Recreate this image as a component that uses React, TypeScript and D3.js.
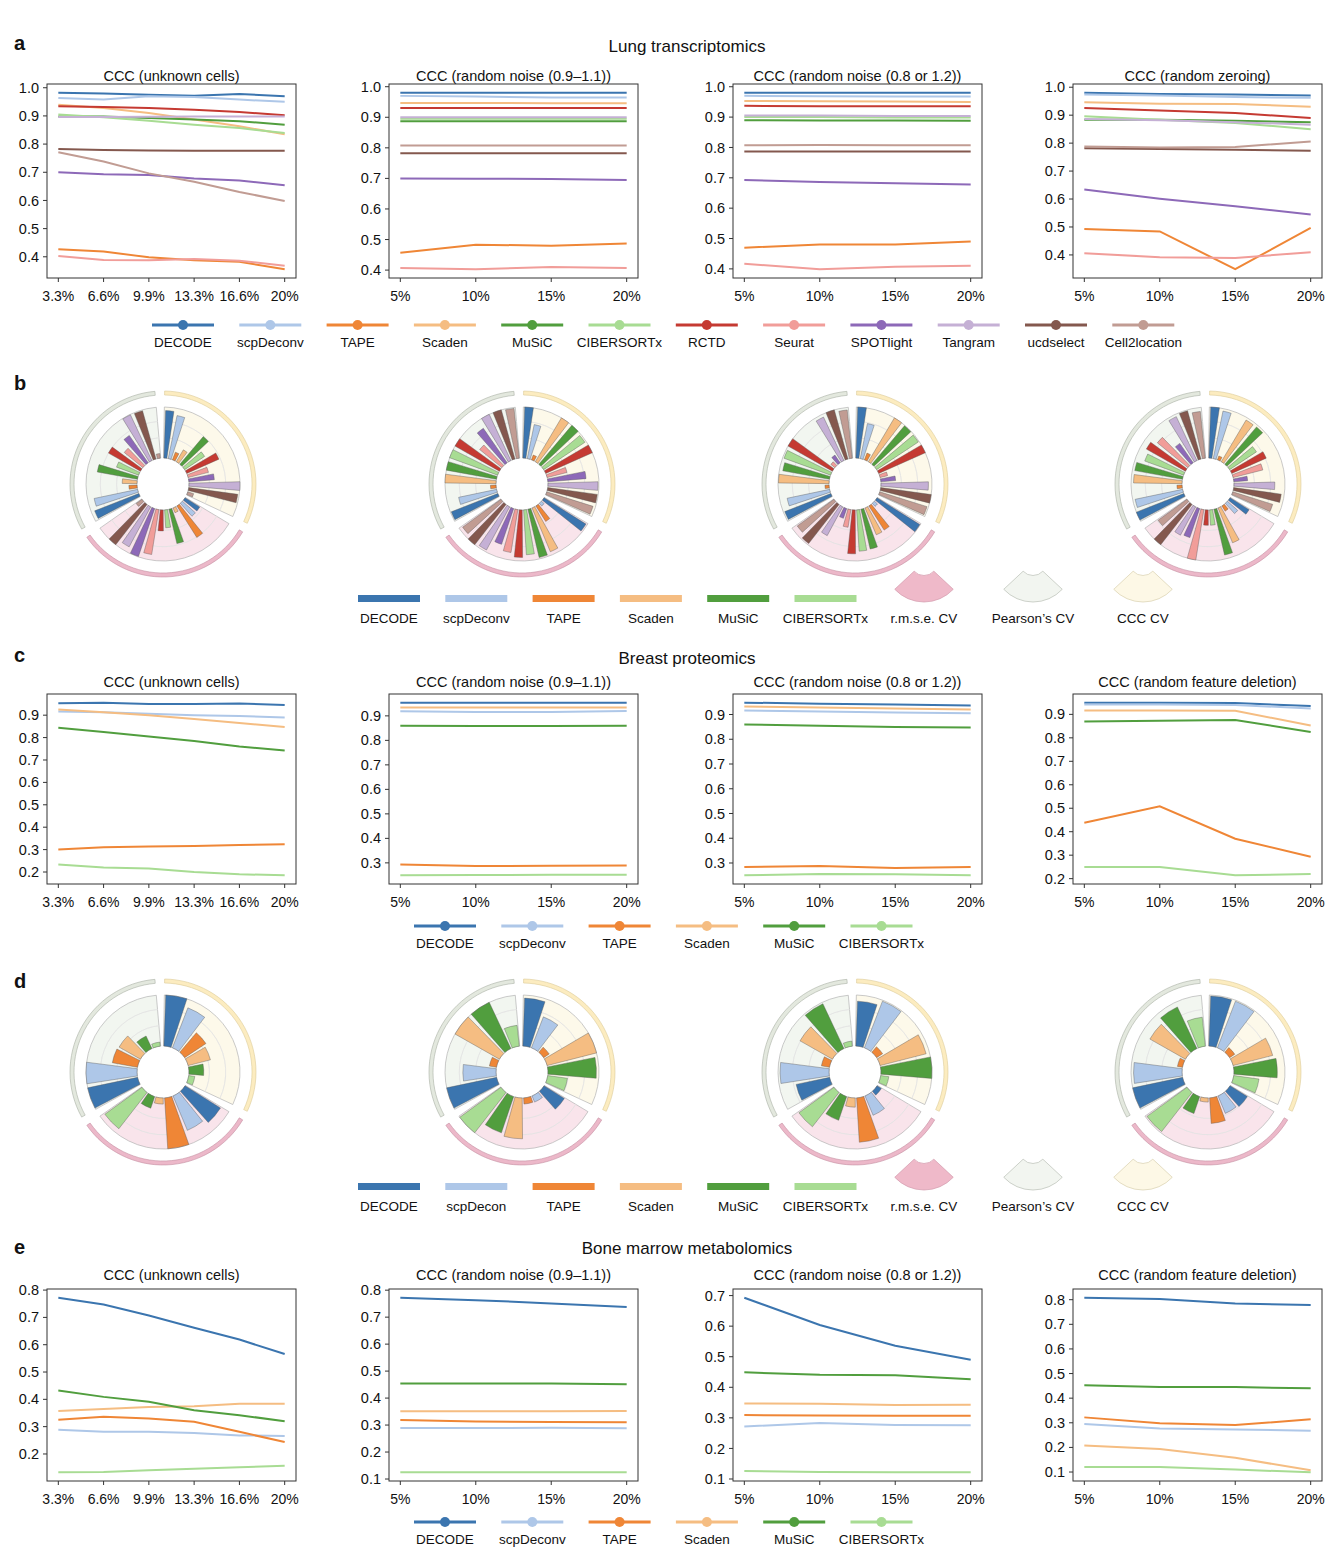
import React from "react";
import * as d3 from "d3";

const FONT = "'Liberation Sans', Arial, sans-serif";

// methods and colours
const methods = [
  "DECODE", "scpDeconv", "TAPE", "Scaden", "MuSiC", "CIBERSORTx",
  "RCTD", "Seurat", "SPOTlight", "Tangram", "ucdselect", "Cell2location",
];
const methodColors = [
  "#3b75af", "#aec7e8", "#ef8636", "#f5bd82", "#519e3e", "#a8dc93",
  "#c53a32", "#f19d99", "#8d69b8", "#c5b0d5", "#84584e", "#c19c93",
];
const dMethods = ["DECODE", "scpDecon", "TAPE", "Scaden", "MuSiC", "CIBERSORTx"];
const cvNames = ["r.m.s.e. CV", "Pearson\u2019s CV", "CCC CV"];

// x tick labels
const unknownTicks = ["3.3%", "6.6%", "9.9%", "13.3%", "16.6%", "20%"];
const pctTicks = ["5%", "10%", "15%", "20%"];

// ---- a: lung transcriptomics (rows follow `methods`)
const lungUnknown = [
  [0.982, 0.98, 0.975, 0.972, 0.978, 0.97],
  [0.964, 0.958, 0.97, 0.967, 0.958, 0.95],
  [0.427, 0.419, 0.398, 0.388, 0.382, 0.356],
  [0.94, 0.928, 0.91, 0.887, 0.863, 0.835],
  [0.898, 0.898, 0.893, 0.887, 0.881, 0.869],
  [0.905, 0.895, 0.883, 0.869, 0.857, 0.839],
  [0.934, 0.932, 0.928, 0.922, 0.914, 0.902],
  [0.403, 0.389, 0.388, 0.392, 0.386, 0.368],
  [0.7, 0.693, 0.69, 0.678, 0.671, 0.654],
  [0.896, 0.896, 0.897, 0.898, 0.898, 0.898],
  [0.783, 0.779, 0.777, 0.776, 0.776, 0.776],
  [0.771, 0.738, 0.696, 0.666, 0.63, 0.598],
];
const lungNoise1 = [
  [0.98, 0.98, 0.98, 0.98],
  [0.97, 0.968, 0.965, 0.965],
  [0.457, 0.483, 0.48, 0.487],
  [0.947, 0.947, 0.946, 0.946],
  [0.887, 0.887, 0.887, 0.887],
  [0.895, 0.895, 0.895, 0.895],
  [0.93, 0.93, 0.93, 0.93],
  [0.407, 0.403, 0.41, 0.407],
  [0.7, 0.699, 0.698, 0.695],
  [0.9, 0.9, 0.9, 0.9],
  [0.782, 0.782, 0.782, 0.782],
  [0.808, 0.808, 0.808, 0.808],
];
const lungNoise2 = [
  [0.98, 0.98, 0.98, 0.98],
  [0.97, 0.969, 0.968, 0.968],
  [0.47, 0.48, 0.48, 0.49],
  [0.953, 0.952, 0.951, 0.95],
  [0.89, 0.889, 0.889, 0.888],
  [0.9, 0.9, 0.899, 0.899],
  [0.937, 0.936, 0.936, 0.936],
  [0.417, 0.399, 0.407, 0.41],
  [0.693, 0.686, 0.682, 0.678],
  [0.905, 0.905, 0.904, 0.904],
  [0.787, 0.787, 0.787, 0.787],
  [0.807, 0.808, 0.807, 0.807],
];
const lungZero = [
  [0.98, 0.976, 0.974, 0.97],
  [0.974, 0.97, 0.965, 0.962],
  [0.493, 0.484, 0.349, 0.497],
  [0.946, 0.941, 0.94, 0.93],
  [0.884, 0.884, 0.88, 0.875],
  [0.896, 0.884, 0.872, 0.85],
  [0.926, 0.917, 0.908, 0.89],
  [0.406, 0.392, 0.389, 0.41],
  [0.634, 0.601, 0.574, 0.545],
  [0.886, 0.882, 0.875, 0.866],
  [0.782, 0.779, 0.776, 0.773],
  [0.788, 0.784, 0.786, 0.806],
];

// ---- b: CV wheels, lung (per wheel: CCC CV, r.m.s.e. CV, Pearson's CV)
const lungWheel1 = [
  [0.93, 0.86, 0.16, 0.27, 0.71, 0.47, 0.69, 0.41, 0.5, 1.0, 0.97, 0.12],
  [0.34, 0.34, 0.73, 0.1, 0.69, 0.35, 0.41, 0.89, 0.99, 0.89, 1.0, 0.14],
  [0.93, 0.87, 0.16, 0.29, 0.8, 0.46, 0.72, 0.47, 0.65, 0.99, 0.98, 0.09],
];
const lungWheel2 = [
  [1.0, 0.68, 0.1, 1.0, 1.0, 0.97, 1.0, 0.4, 0.75, 0.98, 0.98, 0.95],
  [0.97, 0.07, 0.36, 0.93, 0.97, 0.88, 0.93, 0.85, 0.74, 0.96, 1.0, 0.93],
  [0.98, 0.76, 0.11, 1.0, 1.0, 1.0, 1.0, 0.56, 0.82, 1.0, 1.0, 0.98],
];
const lungWheel3 = [
  [1.0, 0.7, 0.14, 1.0, 0.99, 0.98, 1.0, 0.15, 0.29, 0.93, 1.0, 0.97],
  [0.99, 0.08, 0.56, 0.57, 0.8, 0.81, 0.86, 0.35, 0.2, 0.64, 0.97, 0.89],
  [0.97, 0.85, 0.08, 0.99, 0.93, 0.97, 1.0, 0.1, 0.18, 0.94, 1.0, 0.95],
];
const lungWheel4 = [
  [1.0, 0.95, 0.08, 0.95, 0.96, 0.63, 0.74, 0.6, 0.27, 0.8, 0.94, 0.82],
  [0.44, 0.27, 0.12, 0.74, 0.92, 0.3, 0.3, 1.0, 0.6, 0.63, 1.0, 0.7],
  [1.0, 0.95, 0.1, 0.95, 0.95, 0.81, 0.88, 0.77, 0.46, 0.95, 0.98, 0.92],
];

// ---- c: breast proteomics
const breastUnknown = [
  [0.953, 0.956, 0.95, 0.95, 0.952, 0.946],
  [0.916, 0.913, 0.906, 0.9, 0.896, 0.89],
  [0.3, 0.31, 0.314, 0.316, 0.32, 0.324],
  [0.925, 0.913, 0.9, 0.883, 0.865, 0.847],
  [0.844, 0.825, 0.805, 0.785, 0.76, 0.742],
  [0.234, 0.22, 0.216, 0.2, 0.19, 0.185],
];
const breastNoise1 = [
  [0.954, 0.954, 0.954, 0.954],
  [0.919, 0.916, 0.916, 0.92],
  [0.293, 0.287, 0.288, 0.289],
  [0.934, 0.934, 0.934, 0.934],
  [0.86, 0.859, 0.859, 0.86],
  [0.249, 0.25, 0.251, 0.251],
];
const breastNoise2 = [
  [0.948, 0.944, 0.94, 0.936],
  [0.916, 0.912, 0.908, 0.905],
  [0.284, 0.288, 0.28, 0.284],
  [0.932, 0.928, 0.924, 0.92],
  [0.86, 0.855, 0.85, 0.848],
  [0.25, 0.256, 0.254, 0.25],
];
const breastDeletion = [
  [0.95, 0.95, 0.948, 0.936],
  [0.942, 0.942, 0.94, 0.925],
  [0.438, 0.508, 0.37, 0.293],
  [0.917, 0.917, 0.915, 0.853],
  [0.87, 0.873, 0.876, 0.825],
  [0.25, 0.25, 0.214, 0.22],
];

// ---- d: CV wheels, breast
const breastWheel1 = [
  [1.0, 0.84, 0.5, 0.45, 0.29, 0.12],
  [0.82, 0.73, 1.0, 0.12, 0.24, 0.9],
  [1.0, 1.0, 0.5, 0.48, 0.27, 0.08],
];
const breastWheel2 = [
  [0.94, 0.65, 0.13, 1.0, 0.95, 0.39],
  [0.47, 0.13, 0.12, 0.8, 0.75, 1.0],
  [1.0, 0.65, 0.14, 1.0, 1.0, 0.41],
];
const breastWheel3 = [
  [0.88, 0.98, 0.14, 0.93, 1.0, 0.16],
  [0.1, 0.41, 0.87, 0.18, 0.49, 0.85],
  [0.67, 0.96, 0.16, 0.73, 0.97, 0.1],
];
const breastWheel4 = [
  [0.98, 0.98, 0.12, 0.8, 0.85, 0.5],
  [0.4, 0.37, 0.5, 0.08, 0.35, 0.97],
  [1.0, 0.95, 0.1, 0.8, 0.9, 0.57],
];

// ---- e: bone marrow metabolomics
const boneUnknown = [
  [0.772, 0.747, 0.707, 0.662, 0.619, 0.566],
  [0.289, 0.281, 0.281, 0.277, 0.268, 0.266],
  [0.325, 0.336, 0.33, 0.318, 0.281, 0.244],
  [0.357, 0.365, 0.372, 0.375, 0.384, 0.384],
  [0.432, 0.409, 0.391, 0.36, 0.342, 0.32],
  [0.133, 0.134, 0.14, 0.146, 0.151, 0.157],
];
const boneNoise1 = [
  [0.772, 0.763, 0.751, 0.738],
  [0.289, 0.289, 0.29, 0.288],
  [0.319, 0.313, 0.311, 0.31],
  [0.351, 0.351, 0.351, 0.352],
  [0.454, 0.454, 0.454, 0.451],
  [0.125, 0.125, 0.125, 0.125],
];
const boneNoise2 = [
  [0.693, 0.604, 0.536, 0.49],
  [0.272, 0.283, 0.277, 0.276],
  [0.309, 0.308, 0.307, 0.307],
  [0.347, 0.346, 0.342, 0.343],
  [0.449, 0.441, 0.439, 0.426],
  [0.126, 0.123, 0.122, 0.122],
];
const boneDeletion = [
  [0.808, 0.803, 0.785, 0.778],
  [0.295, 0.277, 0.273, 0.268],
  [0.322, 0.298, 0.291, 0.314],
  [0.208, 0.194, 0.158, 0.107],
  [0.452, 0.445, 0.445, 0.44],
  [0.12, 0.12, 0.11, 0.099],
];

const titlesA = [
  "CCC (unknown cells)",
  "CCC (random noise (0.9\u20131.1))",
  "CCC (random noise (0.8 or 1.2))",
  "CCC (random zeroing)",
];
const titlesCE = [
  "CCC (unknown cells)",
  "CCC (random noise (0.9\u20131.1))",
  "CCC (random noise (0.8 or 1.2))",
  "CCC (random feature deletion)",
];

const chartLefts = [47, 389, 733, 1073];
const chartW = 249;
const wheelCx = [163, 522, 855, 1208];

// wheel sectors: CCC CV (top right), r.m.s.e. CV (bottom), Pearson's CV (left)
const sectors = [
  { a0: 1, a1: 115, fill: "#fdf9ea", ring: "#fcecc0", ringStroke: "#dccb98" },
  { a0: 121, a1: 235, fill: "#f9e4eb", ring: "#ecb8c9", ringStroke: "#c48ea1" },
  { a0: 241, a1: 355, fill: "#f2f6f0", ring: "#e3e8de", ringStroke: "#a9b0a4" },
];

type LineChartProps = {
  left: number;
  top: number;
  height: number;
  titleGap: number;
  title: string;
  ticks: string[];
  series: number[][];
};

function LineChart({ left, top, height, titleGap, title, ticks, series }: LineChartProps) {
  const n = ticks.length;
  const x = d3
    .scalePoint<string>()
    .domain(ticks)
    .range([left, left + chartW])
    .padding(0.05 * (n - 1));
  const [lo, hi] = d3.extent(series.flat()) as [number, number];
  const pad = (hi - lo) * 0.05;
  const y = d3
    .scaleLinear()
    .domain([lo - pad, hi + pad])
    .range([top + height, top]);
  const line = d3
    .line<number>()
    .x((_, i) => x(ticks[i]) as number)
    .y((d) => y(d));
  const bottom = top + height;
  return (
    <g>
      <text
        x={left + chartW / 2}
        y={top - titleGap}
        textAnchor="middle"
        fontSize={14.5}
      >
        {title}
      </text>
      {series.map((s, i) => (
        <path
          key={i}
          d={line(s) ?? ""}
          fill="none"
          stroke={methodColors[i]}
          strokeWidth={2}
        />
      ))}
      <rect
        x={left}
        y={top}
        width={chartW}
        height={height}
        fill="none"
        stroke="#333"
        strokeWidth={1}
      />
      {y.ticks(7).map((t) => (
        <g key={t}>
          <line x1={left - 4} x2={left} y1={y(t)} y2={y(t)} stroke="#333" />
          <text
            x={left - 8}
            y={y(t)}
            dy="0.35em"
            textAnchor="end"
            fontSize={14.5}
          >
            {d3.format(".1f")(t)}
          </text>
        </g>
      ))}
      {ticks.map((t) => (
        <g key={t}>
          <line
            x1={x(t)}
            x2={x(t)}
            y1={bottom}
            y2={bottom + 4}
            stroke="#333"
          />
          <text x={x(t)} y={bottom + 23} textAnchor="middle" fontSize={14}>
            {t}
          </text>
        </g>
      ))}
    </g>
  );
}

function LineLegend({ y, x0, names }: { y: number; x0: number; names: string[] }) {
  const step = 87.3;
  return (
    <g>
      {names.map((name, i) => {
        const cx = x0 + i * step;
        return (
          <g key={name}>
            <line
              x1={cx - 31}
              x2={cx + 31}
              y1={y}
              y2={y}
              stroke={methodColors[i]}
              strokeWidth={3}
            />
            <circle cx={cx} cy={y} r={5} fill={methodColors[i]} />
            <text x={cx} y={y + 22} textAnchor="middle" fontSize={13.5}>
              {name}
            </text>
          </g>
        );
      })}
    </g>
  );
}

function Wheel({ cx, cy, values }: { cx: number; cy: number; values: number[][] }) {
  const r0 = 26;
  const r1 = 77;
  const n = values[0].length;
  const rad = (deg: number) => (deg * Math.PI) / 180;
  const r = d3.scaleLinear().domain([0, 1]).range([r0, r1]);
  const arc = d3.arc<any>();
  const pad = n > 6 ? 0.32 : 0.16;
  return (
    <g transform={`translate(${cx},${cy})`}>
      {sectors.map((s, k) => {
        const band = d3
          .scaleBand<number>()
          .domain(d3.range(n))
          .range([rad(s.a0), rad(s.a1)])
          .paddingInner(pad)
          .paddingOuter(pad / 3);
        return (
          <g key={k}>
            <path
              d={
                arc({
                  innerRadius: r0,
                  outerRadius: r1,
                  startAngle: rad(s.a0),
                  endAngle: rad(s.a1),
                }) ?? ""
              }
              fill={s.fill}
              stroke="#b3b3b3"
              strokeWidth={0.7}
            />
            {[0.4, 0.72].map((g) => (
              <path
                key={g}
                d={
                  arc({
                    innerRadius: r(g),
                    outerRadius: r(g),
                    startAngle: rad(s.a0),
                    endAngle: rad(s.a1),
                  }) ?? ""
                }
                fill="none"
                stroke="#e2e2e2"
                strokeWidth={0.6}
              />
            ))}
            {values[k].map((v, i) => (
              <path
                key={i}
                d={
                  arc({
                    innerRadius: r0,
                    outerRadius: r(v),
                    startAngle: band(i) as number,
                    endAngle: (band(i) as number) + band.bandwidth(),
                  }) ?? ""
                }
                fill={methodColors[i]}
                stroke="#555"
                strokeWidth={0.4}
              />
            ))}
            <path
              d={
                arc({
                  innerRadius: 89,
                  outerRadius: 93,
                  startAngle: rad(s.a0),
                  endAngle: rad(s.a1),
                }) ?? ""
              }
              fill={s.ring}
              stroke={s.ringStroke}
              strokeWidth={0.6}
            />
          </g>
        );
      })}
    </g>
  );
}

function WheelLegend({ y, names }: { y: number; names: string[] }) {
  const step = 87.3;
  const x0 = 389;
  const icon = d3.arc<any>()({
    innerRadius: 13.5,
    outerRadius: 40,
    startAngle: Math.PI - 0.82,
    endAngle: Math.PI + 0.82,
  }) ?? "";
  const iconX = [924, 1033, 1143];
  const iconStyle = [
    { fill: "#efb9c9", stroke: "#d39aac" },
    { fill: "#f2f5f0", stroke: "#b9beb5" },
    { fill: "#fdf8e6", stroke: "#d9d0ad" },
  ];
  return (
    <g>
      {names.map((name, i) => {
        const cx = x0 + i * step;
        return (
          <g key={name}>
            <rect
              x={cx - 31}
              y={y}
              width={62}
              height={7}
              fill={methodColors[i]}
            />
            <text x={cx} y={y + 28} textAnchor="middle" fontSize={13.5}>
              {name}
            </text>
          </g>
        );
      })}
      {cvNames.map((name, i) => (
        <g key={name}>
          <path
            d={icon}
            transform={`translate(${iconX[i]},${y - 33})`}
            fill={iconStyle[i].fill}
            stroke={iconStyle[i].stroke}
            strokeWidth={0.7}
          />
          <text x={iconX[i]} y={y + 28} textAnchor="middle" fontSize={13.5}>
            {name}
          </text>
        </g>
      ))}
    </g>
  );
}

const Letter = ({ y, ch }: { y: number; ch: string }) => (
  <text x={14} y={y} fontSize={20} fontWeight="bold">
    {ch}
  </text>
);

export default function App() {
  const aSeries = [lungUnknown, lungNoise1, lungNoise2, lungZero];
  const cSeries = [breastUnknown, breastNoise1, breastNoise2, breastDeletion];
  const eSeries = [boneUnknown, boneNoise1, boneNoise2, boneDeletion];
  const bWheels = [lungWheel1, lungWheel2, lungWheel3, lungWheel4];
  const dWheels = [breastWheel1, breastWheel2, breastWheel3, breastWheel4];
  return (
    <svg
      width={1342}
      height={1554}
      style={{ position: "absolute", left: 0, top: 0, background: "#fff" }}
      fontFamily={FONT}
      fill="#111"
    >
      <rect width={1342} height={1554} fill="#fff" />

      {/* a */}
      <Letter y={50} ch="a" />
      <text x={687} y={52} textAnchor="middle" fontSize={17}>
        Lung transcriptomics
      </text>
      {aSeries.map((s, i) => (
        <LineChart
          key={i}
          left={chartLefts[i]}
          top={84}
          height={194}
          titleGap={3}
          title={titlesA[i]}
          ticks={i === 0 ? unknownTicks : pctTicks}
          series={s}
        />
      ))}
      <LineLegend y={325} x0={183} names={methods} />

      {/* b */}
      <Letter y={390} ch="b" />
      {bWheels.map((w, i) => (
        <Wheel key={i} cx={wheelCx[i]} cy={484} values={w} />
      ))}
      <WheelLegend y={595} names={methods.slice(0, 6)} />

      {/* c */}
      <Letter y={662} ch="c" />
      <text x={687} y={664} textAnchor="middle" fontSize={17}>
        Breast proteomics
      </text>
      {cSeries.map((s, i) => (
        <LineChart
          key={i}
          left={chartLefts[i]}
          top={694}
          height={190}
          titleGap={7}
          title={titlesCE[i]}
          ticks={i === 0 ? unknownTicks : pctTicks}
          series={s}
        />
      ))}
      <LineLegend y={926} x0={445} names={methods.slice(0, 6)} />

      {/* d */}
      <Letter y={988} ch="d" />
      {dWheels.map((w, i) => (
        <Wheel key={i} cx={wheelCx[i]} cy={1072} values={w} />
      ))}
      <WheelLegend y={1183} names={dMethods} />

      {/* e */}
      <Letter y={1254} ch="e" />
      <text x={687} y={1254} textAnchor="middle" fontSize={17}>
        Bone marrow metabolomics
      </text>
      {eSeries.map((s, i) => (
        <LineChart
          key={i}
          left={chartLefts[i]}
          top={1289}
          height={192}
          titleGap={9}
          title={titlesCE[i]}
          ticks={i === 0 ? unknownTicks : pctTicks}
          series={s}
        />
      ))}
      <LineLegend y={1522} x0={445} names={methods.slice(0, 6)} />
    </svg>
  );
}
